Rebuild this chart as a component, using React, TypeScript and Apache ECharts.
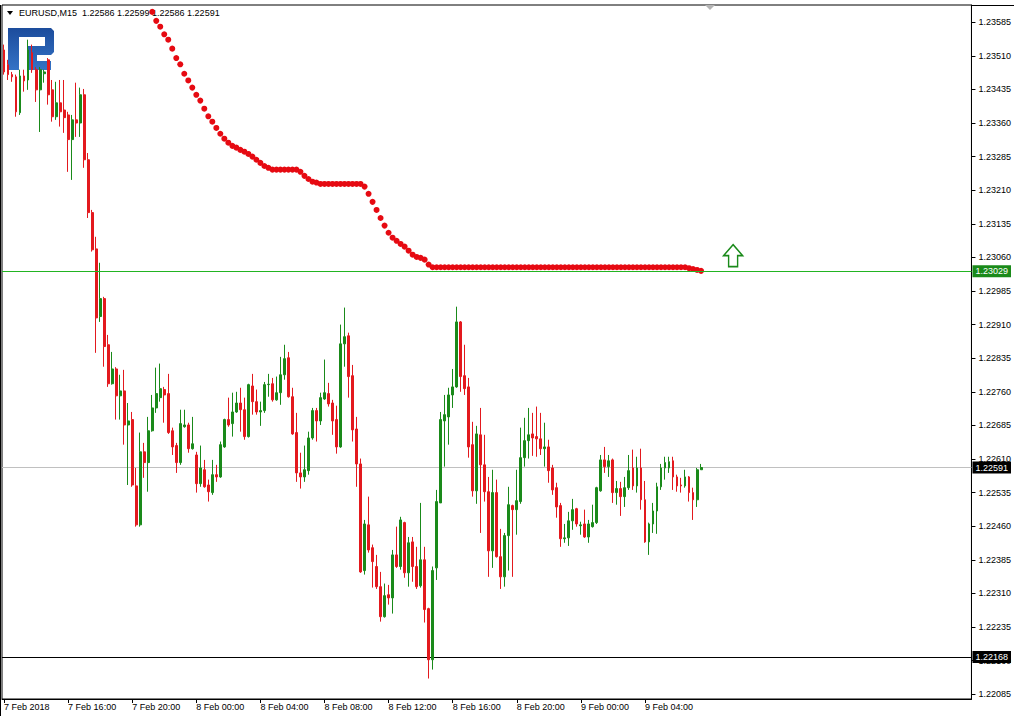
import React, { useEffect, useRef } from "react";
import * as echarts from "echarts";

// EURUSD M15 candles, 7 Feb 2018 12:00 .. 9 Feb 2018 07:30
const openV = [
  1.23523, 1.2349, 1.23468, 1.23463, 1.23383, 1.23465, 1.23456, 1.23517, 1.23479, 1.23434,
  1.2347, 1.23501, 1.23434, 1.23374, 1.23405, 1.23389, 1.23378, 1.23323, 1.23367, 1.2336,
  1.23423, 1.23278, 1.2316, 1.23079, 1.22928, 1.22968, 1.22865, 1.22778, 1.22811, 1.22751,
  1.22762, 1.22686, 1.22698, 1.2255, 1.22463, 1.22626, 1.22602, 1.22673, 1.22724, 1.22747,
  1.22765, 1.22756, 1.22673, 1.2264, 1.22602, 1.22682, 1.22686, 1.22633, 1.22619, 1.22555,
  1.22586, 1.22552, 1.22535, 1.22575, 1.2257, 1.22637, 1.22698, 1.22689, 1.22715, 1.22735,
  1.2272, 1.2266, 1.22773, 1.22738, 1.22715, 1.22718, 1.22776, 1.22778, 1.22742, 1.22758,
  1.22798, 1.22836, 1.22749, 1.22669, 1.22579, 1.2257, 1.22584, 1.22657, 1.22718, 1.22695,
  1.22744, 1.22756, 1.22735, 1.22698, 1.22637, 1.22867, 1.22885, 1.22796, 1.22677, 1.22599,
  1.22361, 1.22463, 1.22412, 1.2237, 1.22325, 1.22258, 1.22307, 1.223, 1.22396, 1.2237,
  1.22468, 1.22356, 1.22425, 1.2237, 1.22327, 1.22385, 1.22276, 1.22162, 1.22367, 1.22512,
  1.22695, 1.22704, 1.22753, 1.22771, 1.22916, 1.22796, 1.22771, 1.22642, 1.22539, 1.22664,
  1.22597, 1.22537, 1.22405, 1.22535, 1.22392, 1.22347, 1.22439, 1.22506, 1.22497, 1.22515,
  1.22613, 1.22651, 1.22666, 1.2266, 1.22655, 1.22633, 1.22637, 1.2259, 1.22546, 1.22506,
  1.22432, 1.22434, 1.22472, 1.22499, 1.22461, 1.22465, 1.22436, 1.22459, 1.22468, 1.22539,
  1.22608, 1.22593, 1.22608, 1.22535, 1.22544, 1.22526, 1.22546, 1.2259, 1.2255, 1.2259,
  1.22519, 1.22425, 1.22465, 1.22494, 1.22548, 1.2259, 1.2259, 1.22606, 1.2257, 1.22552,
  1.2255, 1.2257, 1.22535, 1.22519, 1.22586,
];
const highV = [
  1.23535, 1.23501, 1.23474, 1.23468, 1.23479, 1.23479, 1.23546, 1.23535, 1.23485, 1.23485,
  1.23479, 1.23505, 1.23456, 1.23452, 1.23456, 1.23456, 1.23385, 1.23378, 1.2345, 1.23439,
  1.23436, 1.23293, 1.23166, 1.23106, 1.23048, 1.22972, 1.22887, 1.22849, 1.22815, 1.22798,
  1.22809, 1.22735, 1.22715, 1.2259, 1.22669, 1.22646, 1.22704, 1.22753, 1.22814, 1.22823,
  1.22771, 1.228, 1.2268, 1.22646, 1.2272, 1.2272, 1.22691, 1.22704, 1.22626, 1.2264,
  1.22608, 1.22564, 1.22608, 1.22597, 1.22649, 1.227, 1.22747, 1.22758, 1.2276, 1.22769,
  1.22747, 1.22778, 1.228, 1.22765, 1.22738, 1.22782, 1.228, 1.22791, 1.22794, 1.22838,
  1.22865, 1.22849, 1.22769, 1.22713, 1.22624, 1.2264, 1.22671, 1.22724, 1.22724, 1.22758,
  1.22832, 1.2278, 1.22742, 1.22729, 1.2291, 1.22948, 1.22892, 1.2282, 1.22704, 1.22611,
  1.22474, 1.22526, 1.22419, 1.22396, 1.22358, 1.22332, 1.22329, 1.22407, 1.22459, 1.22481,
  1.2247, 1.22436, 1.22436, 1.22414, 1.22512, 1.22414, 1.22278, 1.2237, 1.22541, 1.22715,
  1.22753, 1.22769, 1.22811, 1.2295, 1.22918, 1.22865, 1.22791, 1.22693, 1.22684, 1.22724,
  1.22664, 1.2257, 1.22586, 1.22564, 1.22454, 1.22445, 1.22548, 1.22508, 1.22586, 1.2268,
  1.22702, 1.22724, 1.22713, 1.22727, 1.22713, 1.22691, 1.22653, 1.22597, 1.22557, 1.22512,
  1.22465, 1.22492, 1.22521, 1.22501, 1.2247, 1.22497, 1.22474, 1.22508, 1.22548, 1.22619,
  1.22637, 1.22619, 1.22611, 1.22561, 1.22559, 1.2257, 1.22619, 1.22631, 1.22615, 1.22633,
  1.22561, 1.22468, 1.22512, 1.22557, 1.22599, 1.22615, 1.22615, 1.22615, 1.22575, 1.22568,
  1.22586, 1.22572, 1.22546, 1.2259, 1.22599,
];
const lowV = [
  1.23468, 1.23456, 1.23452, 1.23374, 1.23378, 1.2343, 1.23434, 1.23472, 1.23407, 1.2334,
  1.2345, 1.23401, 1.23363, 1.23367, 1.23352, 1.23338, 1.23251, 1.23233, 1.23329, 1.23329,
  1.2326, 1.23148, 1.23073, 1.22847, 1.22916, 1.22816, 1.22771, 1.22776, 1.22698, 1.22698,
  1.22642, 1.22552, 1.22548, 1.22459, 1.22459, 1.22568, 1.22537, 1.22671, 1.22713, 1.22738,
  1.22691, 1.22666, 1.22619, 1.22579, 1.22597, 1.2268, 1.22624, 1.22631, 1.22535, 1.22548,
  1.22546, 1.22515, 1.2253, 1.22559, 1.22568, 1.22635, 1.22682, 1.2266, 1.22713, 1.22671,
  1.22653, 1.22658, 1.22709, 1.22709, 1.22684, 1.22713, 1.22749, 1.22738, 1.2274, 1.22731,
  1.22787, 1.22747, 1.22664, 1.22559, 1.22544, 1.22559, 1.22575, 1.22653, 1.22649, 1.22686,
  1.22742, 1.22727, 1.22664, 1.22622, 1.22635, 1.22816, 1.22747, 1.22649, 1.22548, 1.22356,
  1.22352, 1.22401, 1.22323, 1.2232, 1.22247, 1.22256, 1.22285, 1.22265, 1.22367, 1.22363,
  1.22345, 1.22325, 1.22336, 1.2232, 1.22323, 1.22245, 1.2212, 1.2214, 1.2234, 1.22512,
  1.22593, 1.22642, 1.22724, 1.22769, 1.2276, 1.22753, 1.22613, 1.22526, 1.2251, 1.22445,
  1.22515, 1.22347, 1.22367, 1.2239, 1.2232, 1.22325, 1.22361, 1.22347, 1.22441, 1.2251,
  1.22593, 1.22611, 1.22617, 1.22615, 1.22619, 1.22593, 1.22557, 1.2253, 1.22479, 1.22414,
  1.22423, 1.22416, 1.22452, 1.22459, 1.22441, 1.22434, 1.22423, 1.22457, 1.22465, 1.22537,
  1.22579, 1.2257, 1.22512, 1.22508, 1.22483, 1.22503, 1.22541, 1.22541, 1.22535, 1.22497,
  1.22423, 1.22396, 1.22445, 1.22443, 1.22541, 1.22564, 1.22579, 1.22541, 1.22537, 1.22535,
  1.22546, 1.22515, 1.22474, 1.22503, 1.22586,
];
const closeV = [
  1.23474, 1.23468, 1.23463, 1.23385, 1.23465, 1.23454, 1.23523, 1.23479, 1.23434, 1.23479,
  1.23474, 1.23423, 1.23374, 1.23405, 1.23385, 1.23372, 1.23323, 1.23367, 1.2336, 1.23423,
  1.23278, 1.2316, 1.23077, 1.22925, 1.22968, 1.22861, 1.22778, 1.22811, 1.22751, 1.22762,
  1.22686, 1.22695, 1.22552, 1.22463, 1.22626, 1.22602, 1.22673, 1.22724, 1.22756, 1.22767,
  1.22753, 1.22669, 1.22637, 1.22602, 1.22689, 1.22686, 1.22633, 1.22644, 1.22555, 1.2259,
  1.22548, 1.22537, 1.22575, 1.2257, 1.22642, 1.22698, 1.22686, 1.22715, 1.22735, 1.2272,
  1.2266, 1.22776, 1.22738, 1.22715, 1.22718, 1.22776, 1.22777, 1.22742, 1.22758, 1.22798,
  1.22834, 1.22749, 1.22666, 1.22579, 1.2257, 1.22586, 1.22657, 1.22718, 1.22695, 1.22747,
  1.22758, 1.22733, 1.22695, 1.22637, 1.22867, 1.22883, 1.22794, 1.22675, 1.22599, 1.22358,
  1.22465, 1.22407, 1.22381, 1.22325, 1.22258, 1.22305, 1.223, 1.22396, 1.2237, 1.22474,
  1.22356, 1.22423, 1.2237, 1.22325, 1.22385, 1.22274, 1.22162, 1.22361, 1.22515, 1.22698,
  1.22709, 1.22753, 1.22771, 1.22916, 1.22794, 1.22767, 1.22637, 1.22539, 1.22666, 1.22597,
  1.22537, 1.22405, 1.22535, 1.22392, 1.22347, 1.22439, 1.22508, 1.22497, 1.22517, 1.22613,
  1.22651, 1.22664, 1.22657, 1.22655, 1.22633, 1.22637, 1.22584, 1.22541, 1.22503, 1.22432,
  1.22434, 1.22472, 1.22497, 1.22465, 1.22463, 1.22436, 1.22465, 1.22468, 1.22546, 1.22608,
  1.22593, 1.22606, 1.22535, 1.22544, 1.22526, 1.22546, 1.22584, 1.2255, 1.2259, 1.22519,
  1.22425, 1.22465, 1.22494, 1.22548, 1.2259, 1.22602, 1.22604, 1.2257, 1.2255, 1.2255,
  1.2257, 1.22535, 1.22519, 1.22586, 1.22591,
];

// Parabolic SAR dots, starting at bar index SAR_START
const SAR_START = 37;
const sarV = [
  1.23608, 1.23588, 1.23575, 1.23558, 1.23546, 1.23526, 1.23505, 1.23491, 1.2347, 1.23455,
  1.23439, 1.23423, 1.2341, 1.23392, 1.23375, 1.23363, 1.23349, 1.23336, 1.23325, 1.23316,
  1.23309, 1.23305, 1.233, 1.23296, 1.23291, 1.23285, 1.23278, 1.23271, 1.23264, 1.2326,
  1.23256, 1.23256, 1.23256, 1.23256, 1.23256, 1.23256, 1.23256, 1.23251, 1.23242, 1.23235,
  1.23229, 1.23227, 1.23224, 1.23224, 1.23224, 1.23224, 1.23224, 1.23224, 1.23224, 1.23224,
  1.23224, 1.23224, 1.23224, 1.23218, 1.23202, 1.23184, 1.23166, 1.23148, 1.23131, 1.23115,
  1.23104, 1.23097, 1.2309, 1.23084, 1.23075, 1.23066, 1.23061, 1.23059, 1.23055, 1.23044,
  1.23038, 1.23038, 1.23038, 1.23038, 1.23038, 1.23038, 1.23038, 1.23038, 1.23038, 1.23038,
  1.23038, 1.23038, 1.23038, 1.23038, 1.23038, 1.23038, 1.23038, 1.23038, 1.23038, 1.23038,
  1.23038, 1.23038, 1.23038, 1.23038, 1.23038, 1.23038, 1.23038, 1.23038, 1.23038, 1.23038,
  1.23038, 1.23038, 1.23038, 1.23038, 1.23038, 1.23038, 1.23038, 1.23038, 1.23038, 1.23038,
  1.23038, 1.23038, 1.23038, 1.23038, 1.23038, 1.23038, 1.23038, 1.23038, 1.23038, 1.23038,
  1.23038, 1.23038, 1.23038, 1.23038, 1.23038, 1.23038, 1.23038, 1.23038, 1.23038, 1.23038,
  1.23038, 1.23038, 1.23038, 1.23038, 1.23036, 1.23034, 1.23032, 1.2303,
];

const xTickLabels = [
  "7 Feb 2018", "7 Feb 16:00", "7 Feb 20:00", "8 Feb 00:00", "8 Feb 04:00", "8 Feb 08:00",
  "8 Feb 12:00", "8 Feb 16:00", "8 Feb 20:00", "9 Feb 00:00", "9 Feb 04:00",
];
const BARS_PER_TICK = 16;
const yTickValues = [
  1.22085, 1.2216, 1.22235, 1.2231, 1.22385, 1.2246, 1.22535, 1.2261, 1.22685, 1.2276,
  1.22835, 1.2291, 1.22985, 1.2306, 1.23135, 1.2321, 1.23285, 1.2336, 1.23435, 1.2351,
  1.23585,
];
const Y_MIN = 1.220743;
const Y_MAX = 1.236234;
const TOTAL_SLOTS = 242; // bars + right chart shift

const levelSignal = 1.23029;
const levelBid = 1.22591;
const levelLow = 1.22168;

const arrowBarIndex = 182;
const arrowPrice = 1.23064;

const titleText = "EURUSD,M15  1.22586 1.22599 1.22586 1.22591";

const GREEN = "#1a8a1a";
const LINE_GREEN = "#22b422";
const RED = "#e3191e";
const SAR_RED = "#e60a12";
const FONT = '"Liberation Sans", Arial, sans-serif';

function buildCategories(n: number): string[] {
  const out: string[] = [];
  for (let i = 0; i < n; i++) {
    const m = 12 * 60 + 15 * i;
    const day = 7 + Math.floor(m / 1440);
    const mm = m % 1440;
    const h = Math.floor(mm / 60);
    const mi = mm % 60;
    out.push(`${day} Feb ${String(h).padStart(2, "0")}:${String(mi).padStart(2, "0")}`);
  }
  return out;
}

export default function App() {
  const ref = useRef<HTMLDivElement>(null);
  useEffect(() => {
    if (!ref.current) return;
    const chart = echarts.init(ref.current, null, { renderer: "svg" });
    const categories = buildCategories(TOTAL_SLOTS);
    const candles = openV.map((o, i) => [o, closeV[i], lowV[i], highV[i]]);
    const sarData = categories.map((_, i) =>
      i >= SAR_START && i - SAR_START < sarV.length ? sarV[i - SAR_START] : "-"
    );
    const tickInterval = (idx: number) =>
      idx % BARS_PER_TICK === 0 && idx / BARS_PER_TICK < xTickLabels.length;

    const lineLabel = (bg: string, value: number) => ({
      show: true,
      position: "end",
      distance: 1,
      formatter: () => value.toFixed(5),
      color: "#fff",
      backgroundColor: bg,
      padding: [2, 3, 1, 3],
      fontSize: 9,
      fontFamily: FONT,
    });

    chart.setOption({
      animation: false,
      backgroundColor: "#fff",
      grid: {
        left: 2,
        top: 5,
        width: 970,
        height: 694,
        show: true,
        borderColor: "#000",
        borderWidth: 1,
        containLabel: false,
      },
      xAxis: {
        type: "category",
        data: categories,
        boundaryGap: true,
        axisLine: { show: true, lineStyle: { color: "#000", width: 1 } },
        axisTick: {
          show: true,
          alignWithLabel: true,
          interval: tickInterval,
          length: 4,
          lineStyle: { color: "#000" },
        },
        axisLabel: {
          interval: tickInterval,
          formatter: (_v: string, i: number) => xTickLabels[i / BARS_PER_TICK] || "",
          align: "left",
          color: "#000",
          fontSize: 9,
          fontFamily: FONT,
          margin: 3,
        },
        splitLine: { show: false },
      },
      yAxis: {
        type: "value",
        position: "right",
        min: Y_MIN,
        max: Y_MAX,
        splitLine: { show: false },
        axisLine: { show: true, lineStyle: { color: "#000", width: 1 } },
        axisTick: {
          show: true,
          inside: false,
          length: 4,
          lineStyle: { color: "#000" },
          customValues: yTickValues,
        },
        axisLabel: {
          customValues: yTickValues,
          formatter: (v: number) => v.toFixed(5),
          color: "#000",
          fontSize: 9,
          fontFamily: FONT,
          margin: 7,
        },
      },
      graphic: [
        {
          type: "polygon",
          z: 0,
          shape: {
            points: [
              [8, 28], [51, 28], [54, 31], [54, 52], [51, 55], [37, 55], [37, 61], [51, 61],
              [51, 70], [28, 70], [28, 46], [45, 46], [45, 37], [19, 37], [19, 70], [8, 70],
            ],
          },
          style: {
            fill: new echarts.graphic.LinearGradient(0, 0, 0, 1, [
              { offset: 0, color: "#1c4c9c" },
              { offset: 1, color: "#3473c6" },
            ]),
          },
        },
        {
          type: "polygon",
          shape: { points: [[7, 11], [13, 11], [10, 15]] },
          style: { fill: "#000" },
        },
        {
          type: "text",
          x: 19,
          y: 13,
          style: {
            text: titleText,
            fill: "#000",
            fontSize: 9,
            fontFamily: FONT,
            verticalAlign: "middle",
          },
        },
        {
          type: "polygon",
          shape: { points: [[705, 5], [715, 5], [710, 10]] },
          style: { fill: "#b4b4b4" },
        },
        {
          type: "line",
          shape: { x1: 972, y1: 5.5, x2: 1014, y2: 5.5 },
          style: { stroke: "#000", lineWidth: 1 },
        },
        {
          type: "line",
          shape: { x1: 0.5, y1: 5, x2: 0.5, y2: 716 },
          style: { stroke: "#000", lineWidth: 1 },
        },
      ],
      series: [
        {
          type: "candlestick",
          data: candles,
          barWidth: 2.4,
          z: 2,
          itemStyle: {
            color: GREEN,
            color0: RED,
            borderColor: GREEN,
            borderColor0: RED,
            borderWidth: 1,
          },
          markLine: {
            silent: true,
            precision: 5,
            symbol: ["none", "none"],
            animation: false,
            lineStyle: { color: LINE_GREEN, type: "solid", width: 1, opacity: 1 },
            emphasis: { disabled: true },
            data: [
              {
                yAxis: levelSignal,
                lineStyle: { color: LINE_GREEN, type: "solid", width: 1, opacity: 1 },
                label: lineLabel(GREEN, levelSignal),
              },
            ],
          },
          markPoint: {
            animation: false,
            data: [
              {
                coord: [categories[arrowBarIndex], arrowPrice],
                symbol: "path://M9.5,0 L19,11 L14,11 L14,22 L5,22 L5,11 L0,11 Z",
                symbolSize: [19, 22],
                itemStyle: { color: "#fff", borderColor: GREEN, borderWidth: 1.5 },
                label: { show: false },
              },
            ],
          },
        },
        {
          type: "scatter",
          data: sarData,
          symbol: "circle",
          symbolSize: 6,
          z: 3,
          itemStyle: { color: SAR_RED, opacity: 1 },
          markLine: {
            silent: true,
            precision: 5,
            symbol: ["none", "none"],
            animation: false,
            z: 1,
            data: [
              { yAxis: levelBid, lineStyle: { color: "#c0c0c0", type: "solid", width: 1, opacity: 1 }, label: lineLabel("#000", levelBid) },
              { yAxis: levelLow, lineStyle: { color: "#000", type: "solid", width: 1, opacity: 1 }, label: lineLabel("#000", levelLow) },
            ],
          },
        },
      ],
    });
    return () => chart.dispose();
  }, []);
  return (
    <div
      ref={ref}
      style={{ position: "fixed", left: 0, top: 0, width: 1014, height: 716, background: "#fff" }}
    />
  );
}
